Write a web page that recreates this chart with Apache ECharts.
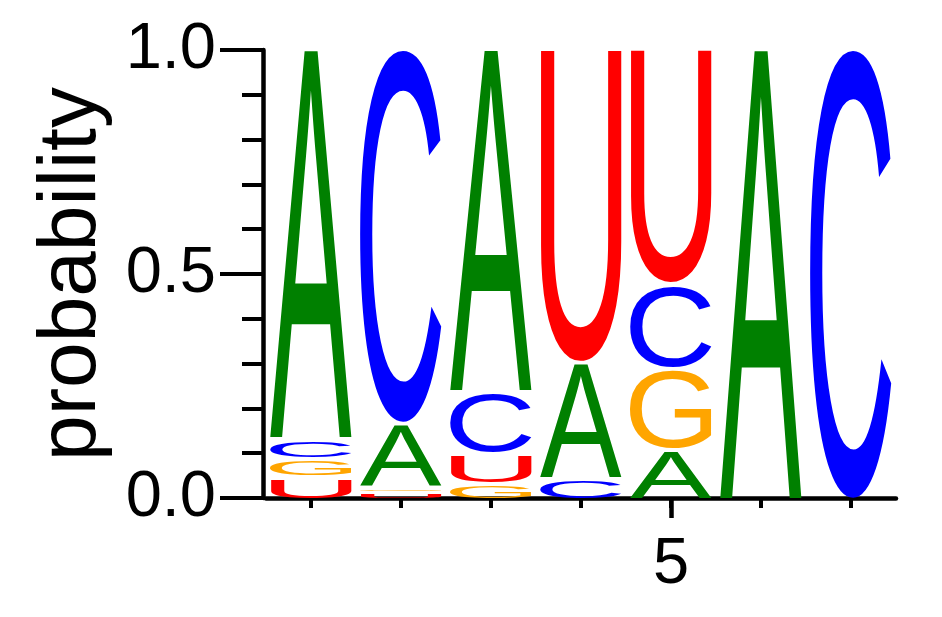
<!DOCTYPE html>
<html><head><meta charset="utf-8">
<script src="https://cdn.jsdelivr.net/npm/echarts@6/dist/echarts.min.js"></script>
<style>html,body{margin:0;padding:0;background:#fff}#chart{width:942px;height:617px}</style>
</head><body><div id="chart"></div>
<script>
// ---- data ----
const positions = [1, 2, 3, 4, 5, 6, 7];
const letters = ['A', 'C', 'G', 'U'];
const probA = [0.873, 0.143, 0.768, 0.259, 0.103, 1.0, 0];
const probC = [0.044, 0.839, 0.138, 0.038, 0.189, 0, 1.0];
const probG = [0.042, 0.011, 0.027, 0, 0.181, 0, 0];
const probU = [0.041, 0.007, 0.067, 0.703, 0.527, 0, 0];
const xTickLabels = [5];
const yTickInterval = 0.5;
const yAxisTitle = 'probability';

// ---- styles ----
const letterColors = { A: '#008000', C: '#0000ff', G: '#ffa500', U: '#ff0000' };
const FONT_FAMILY = '"Liberation Sans"';
const LETTER_FONT = '100px "Liberation Sans"';
const halfW = 0.455;   // half letter width in axis units
const gapPx = 4;       // small gap between stacked letters

// measure glyph ink boxes
const metrics = {};
(function () {
  const c = document.createElement('canvas');
  const ctx = c.getContext('2d');
  ctx.font = LETTER_FONT;
  ctx.textAlign = 'left';
  ctx.textBaseline = 'middle';
  letters.forEach(function (ch) {
    const m = ctx.measureText(ch);
    metrics[ch] = {
      L: m.actualBoundingBoxLeft, R: m.actualBoundingBoxRight,
      A: m.actualBoundingBoxAscent, D: m.actualBoundingBoxDescent
    };
  });
})();

// build stacked rows: [position, base, top, letterIndex]
const probs = { A: probA, C: probC, G: probG, U: probU };
const rows = [];
positions.forEach(function (p, i) {
  const items = letters.map(function (ch, li) { return { li: li, v: probs[ch][i] }; })
    .filter(function (d) { return d.v > 0; })
    .sort(function (a, b) { return a.v - b.v; });
  let base = 0;
  items.forEach(function (d) {
    rows.push([p, base, base + d.v, d.li]);
    base += d.v;
  });
});

function renderItem(params, api) {
  const pos = api.value(0), y0 = api.value(1), y1 = api.value(2);
  const ch = letters[api.value(3)];
  const bl = api.coord([pos - halfW, y0]);
  const tr = api.coord([pos + halfW, y1]);
  const left = bl[0], right = tr[0], top = tr[1];
  let bottom = bl[1];
  if (y0 > 0) bottom -= gapPx;
  const h = bottom - top;
  if (h <= 0.3) return null;
  const m = metrics[ch];
  const sx = (right - left) / (m.L + m.R);
  const sy = h / (m.A + m.D);
  return {
    type: 'text',
    x: left + m.L * sx,
    y: top + m.A * sy,
    scaleX: sx,
    scaleY: sy,
    style: {
      text: ch, font: LETTER_FONT, fill: letterColors[ch],
      textAlign: 'left', textVerticalAlign: 'middle',
      align: 'left', verticalAlign: 'middle'
    }
  };
}

const chart = echarts.init(document.getElementById('chart'));
chart.setOption({
  animation: false,
  backgroundColor: '#ffffff',
  grid: { left: 266, right: 46, top: 50, bottom: 119, containLabel: false, outerBoundsMode: 'none' },
  xAxis: [{
    type: 'value', min: 0.5, max: 7.5, position: 'bottom',
    axisLine: { show: true, onZero: false, lineStyle: { color: '#000', width: 4.5 } },
    axisTick: { show: true, customValues: positions, length: 10, lineStyle: { color: '#000', width: 4 } },
    axisLabel: { show: false },
    splitLine: { show: false }
  }, {
    type: 'value', min: 0.5, max: 7.5, position: 'bottom',
    axisLine: { show: false, onZero: false },
    axisTick: { show: true, customValues: xTickLabels, length: 20, lineStyle: { color: '#000', width: 4.5 } },
    axisLabel: { show: true, customValues: xTickLabels, fontSize: 65, fontFamily: FONT_FAMILY, color: '#000', margin: 35 },
    splitLine: { show: false }
  }],
  yAxis: {
    type: 'value', min: 0, max: 1, interval: yTickInterval, offset: 3,
    axisLine: { show: true, onZero: false, lineStyle: { color: '#000', width: 4.5 } },
    axisTick: { show: true, length: 43, lineStyle: { color: '#000', width: 4 } },
    minorTick: { show: true, splitNumber: 5, length: 21, lineStyle: { color: '#000', width: 4 } },
    axisLabel: { fontSize: 65, fontFamily: FONT_FAMILY, color: '#000', margin: 47,
      formatter: function (v) { return v.toFixed(1); } },
    splitLine: { show: false },
    minorSplitLine: { show: false },
    name: yAxisTitle, nameLocation: 'middle', nameRotate: 90, nameGap: 150,
    nameTextStyle: { fontSize: 82, fontFamily: FONT_FAMILY, color: '#000' }
  },
  series: [{
    type: 'custom',
    xAxisIndex: 0, yAxisIndex: 0,
    renderItem: renderItem,
    encode: { x: 0, y: [1, 2] },
    data: rows,
    clip: false
  }]
});
</script>
</body></html>
